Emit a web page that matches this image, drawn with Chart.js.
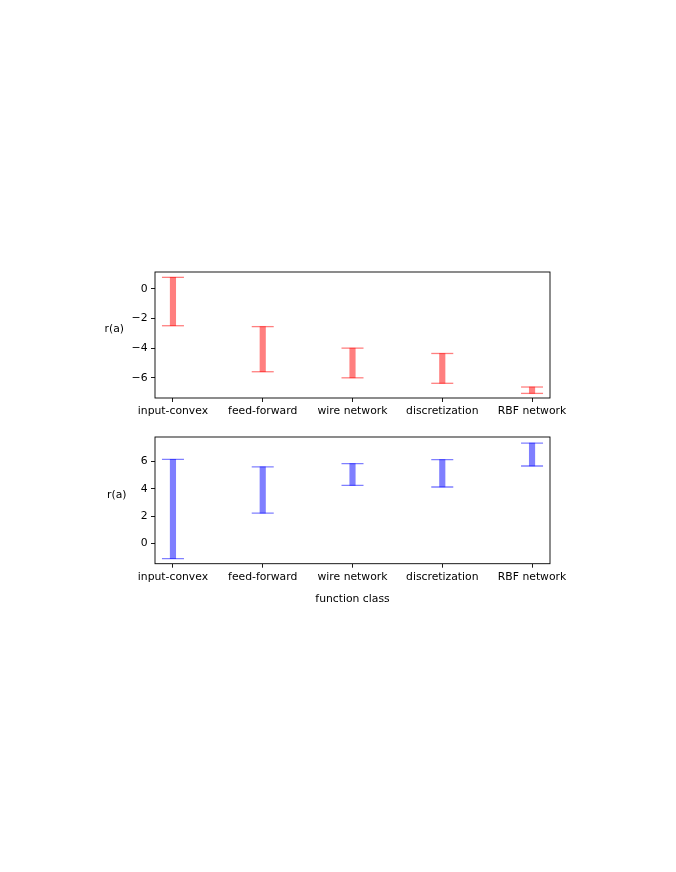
<!DOCTYPE html>
<html><head><meta charset="utf-8">
<script src="https://cdn.jsdelivr.net/npm/chart.js@4/dist/chart.umd.min.js"></script>
<style>
html,body{margin:0;padding:0;background:#fff;width:676px;height:872px;overflow:hidden;}
.c{position:absolute;left:0;width:676px;}
</style></head>
<body>
<div class="c" style="top:240px;height:190px"><canvas id="c1" width="676" height="190"></canvas></div>
<div class="c" style="top:400px;height:220px"><canvas id="c2" width="676" height="220"></canvas></div>
<script>
const categories = ['input-convex','feed-forward','wire network','discretization','RBF network'];
const topLow  = [-2.49, -5.59, -6.0, -6.37, -7.05];
const topHigh = [0.77, -2.55, -4.0, -4.36, -6.62];
const botLow  = [-1.1, 2.23, 4.26, 4.14, 5.68];
const botHigh = [6.17, 5.61, 5.85, 6.15, 7.35];
const topTicks = [-6, -4, -2, 0];
const botTicks = [0, 2, 4, 6];

const FONT = {family:'DejaVu Sans', size:10.8};
Chart.defaults.font = FONT;
Chart.defaults.color = '#000';

function fmt(v){ return String(v).replace('-', '\u2212'); }

const boxPlugin = {
  id:'box',
  afterDraw(chart, args, opts){
    const {ctx, chartArea:a} = chart;
    ctx.save();
    ctx.strokeStyle = '#000';
    ctx.lineWidth = 0.9;
    ctx.strokeRect(a.left, a.top, a.right-a.left, a.bottom-a.top);
    ctx.fillStyle = '#000';
    ctx.font = FONT.size + 'px "DejaVu Sans"';
    ctx.textAlign = 'right';
    ctx.textBaseline = 'middle';
    ctx.fillText(opts.ylabel, opts.lx, opts.ly);
    ctx.restore();
  }
};

function make(id, low, high, ticks, color, ymin, ymax, padTop, axisH, xtitle, lx, ly){
  const bars = categories.map((c,i)=>({x:i, y:[low[i], high[i]]}));
  const caps = [];
  categories.forEach((c,i)=>{ caps.push({x:i,y:low[i]}); caps.push({x:i,y:high[i]}); });
  new Chart(document.getElementById(id), {
    type:'bar',
    data:{datasets:[
      {type:'bar', data:bars, backgroundColor:color, borderWidth:0, barThickness:5.5, grouped:false},
      {type:'scatter', data:caps, pointStyle:'line', radius:11, borderColor:color, borderWidth:1.3, backgroundColor:color, showLine:false}
    ]},
    options:{
      responsive:false, animation:false,
      layout:{padding:{top:padTop, left:0, right:126, bottom:0}},
      plugins:{legend:{display:false}, tooltip:{enabled:false}, box:{ylabel:'r(a)', lx:lx, ly:ly}},
      scales:{
        x:{type:'linear', min:-0.2, max:4.2, offset:false,
           afterBuildTicks:s=>{ s.ticks = categories.map((c,i)=>({value:i})); },
           afterFit:s=>{ s.height = axisH; },
           ticks:{callback:v=>categories[v], padding:3, maxRotation:0, autoSkip:false, color:'#000', font:FONT},
           grid:{display:true, offset:false, drawOnChartArea:false, drawTicks:true, tickLength:4, color:'#000', lineWidth:0.9},
           border:{display:false},
           title:{display:!!xtitle, text:xtitle||'', color:'#000', font:FONT, padding:{top:0,bottom:14.5}}
        },
        y:{type:'linear', min:ymin, max:ymax,
           afterBuildTicks:s=>{ s.ticks = ticks.map(v=>({value:v})); },
           afterFit:s=>{ s.width = 155; },
           ticks:{callback:v=>fmt(v), padding:3.5, color:'#000', font:FONT},
           grid:{display:true, drawOnChartArea:false, drawTicks:true, tickLength:4, color:'#000', lineWidth:0.9},
           border:{display:false}
        }
      }
    },
    plugins:[boxPlugin]
  });
}

make('c1', topLow, topHigh, topTicks, 'rgba(255,0,0,0.5)', -7.36, 1.13, 32, 32, null, 124, 89);
make('c2', botLow, botHigh, botTicks, 'rgba(0,0,255,0.5)', -1.47, 7.8, 37, 56.3, 'function class', 126.5, 95);
</script>
</body></html>
